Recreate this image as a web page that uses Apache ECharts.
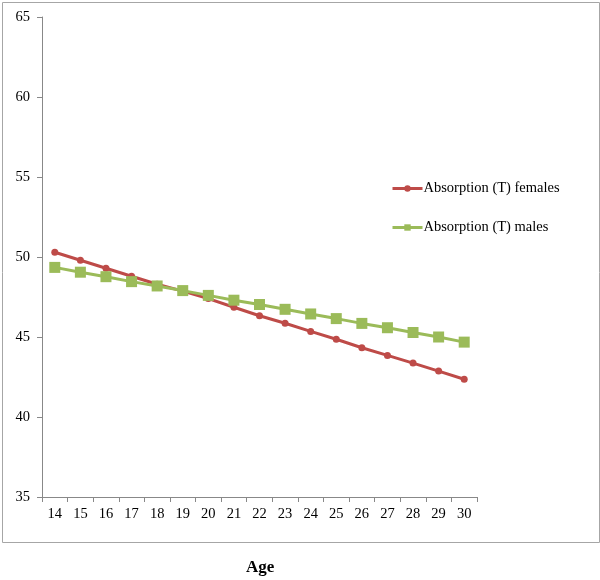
<!DOCTYPE html>
<html>
<head>
<meta charset="utf-8">
<script src="https://cdn.jsdelivr.net/npm/echarts@6/dist/echarts.min.js"></script>
<style>html,body{margin:0;padding:0;background:#fff;}#c{width:600px;height:580px;}</style>
</head>
<body>
<div id="c"></div>
<script>
var ages = ['14','15','16','17','18','19','20','21','22','23','24','25','26','27','28','29','30'];
var females = [50.3, 49.8, 49.3, 48.8, 48.3, 47.87, 47.4, 46.86, 46.33, 45.86, 45.35, 44.86, 44.33, 43.85, 43.37, 42.87, 42.36];
var males = [49.35, 49.05, 48.77, 48.46, 48.19, 47.9, 47.6, 47.3, 47.03, 46.73, 46.44, 46.15, 45.85, 45.58, 45.28, 45.0, 44.68];
var yTicks = [35, 40, 45, 50, 55, 60, 65];
var serif = '"Liberation Serif", "DejaVu Serif", serif';

var chart = echarts.init(document.getElementById('c'), null, {renderer: 'canvas'});
chart.setOption({
  animation: false,
  backgroundColor: '#fff',
  graphic: [{
    type: 'rect', left: 0, top: 0, z: -1,
    shape: {x: 0.5, y: 0.5, width: 597, height: 540},
    style: {fill: 'none', stroke: '#a6a6a6', lineWidth: 1}
  }, {
    type: 'text', left: 246, top: 559,
    style: {text: 'Age', font: 'bold 17px ' + serif, fill: '#000'}
  }],
  grid: {left: 42, right: 123, top: 17, bottom: 83, containLabel: false},
  legend: {
    orient: 'vertical', left: 386, top: 176, itemGap: 24,
    itemWidth: 30, itemHeight: 8,
    lineStyle: {width: 3},
    textStyle: {fontFamily: serif, fontSize: 14.5, color: '#000', padding: [0,0,0,-4]},
    data: ['Absorption (T) females', 'Absorption (T) males']
  },
  xAxis: {
    type: 'category', data: ages, boundaryGap: true,
    axisLine: {lineStyle: {color: '#888', width: 1}},
    axisTick: {show: true, length: 5, interval: 0, lineStyle: {color: '#888'}},
    axisLabel: {fontFamily: serif, fontSize: 14.5, color: '#000', margin: 10, interval: 0}
  },
  yAxis: {
    type: 'value', min: yTicks[0], max: yTicks[yTicks.length-1], interval: 5,
    axisLine: {show: true, lineStyle: {color: '#888', width: 1}},
    axisTick: {show: true, length: 5, lineStyle: {color: '#888'}},
    splitLine: {show: false},
    axisLabel: {fontFamily: serif, fontSize: 14.5, color: '#000', margin: 12}
  },
  series: [{
    name: 'Absorption (T) females', type: 'line', data: females,
    symbol: 'circle', symbolSize: 7,
    lineStyle: {color: '#BE4B48', width: 3},
    itemStyle: {color: '#BE4B48'}
  }, {
    name: 'Absorption (T) males', type: 'line', data: males,
    symbol: 'rect', symbolSize: 11,
    lineStyle: {color: '#9BBB59', width: 3},
    itemStyle: {color: '#9BBB59'}
  }]
});
</script>
</body>
</html>
